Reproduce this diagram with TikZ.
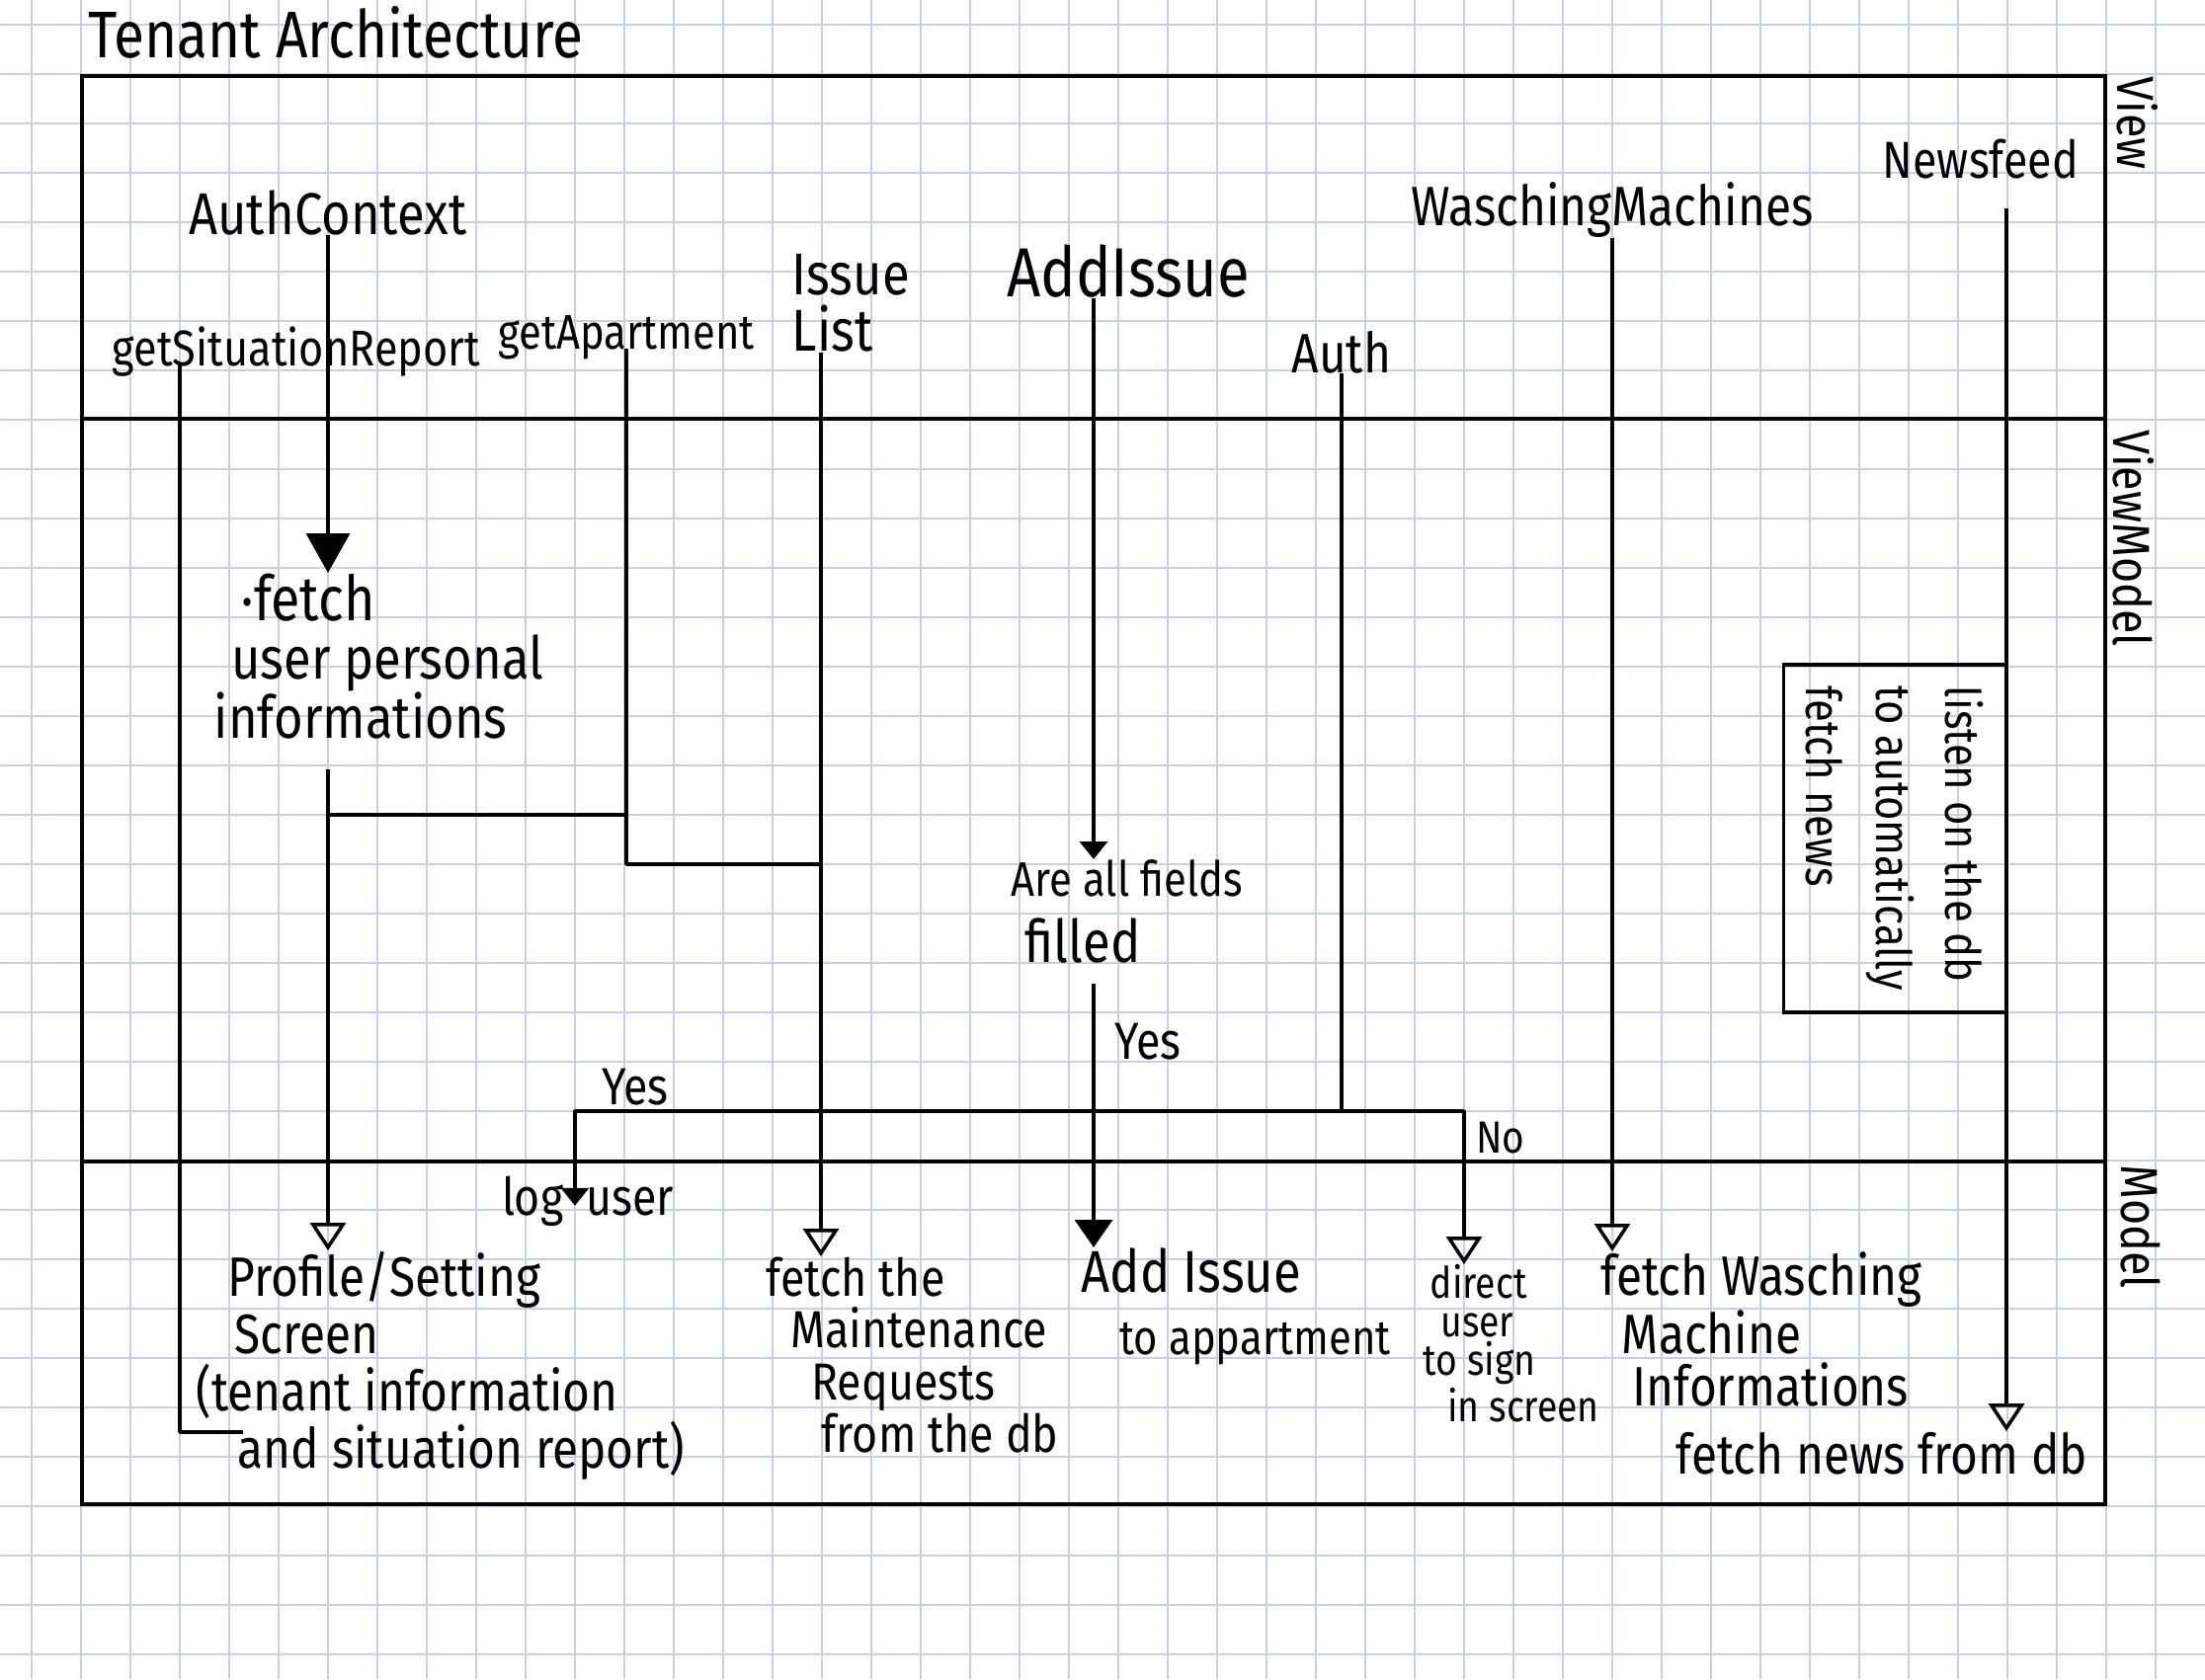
\documentclass[tikz,border=0pt]{standalone}
\usepackage{fontspec}
\setmainfont{Fira Sans}[FakeStretch=0.85]
\usetikzlibrary{
  arrows.meta
}
\definecolor{gridblue}{RGB}{196,208,228}

\begin{document}
\begin{tikzpicture}[
    every node/.style = {inner sep=0pt, align=left},
    hand/.style 2 args = {font=\fontsize{#1}{#2}\selectfont},
    side/.style = {rotate=-90, hand={15pt}{15pt}},
    mvvm/.style = {line width=1.4pt},
    conn/.style = {line width=1pt, line join=round},
    bigtip/.style = {-{Triangle[length=4mm, width=4.4mm]}},
    midtip/.style = {-{Triangle[length=2.8mm, width=3.8mm]}},
    smalltip/.style = {-{Triangle[length=1.8mm, width=2.8mm]}},
    opentip/.style = {-{Triangle[open, length=2.8mm, width=3.6mm]}}]
  \useasboundingbox (0,0) rectangle (22.32,-17);
  \fill[white] (0,0) rectangle (22.32,-17);
  % squared paper
  \foreach \gx in {0,...,43}
    \draw[gridblue, line width=0.6pt] ({0.32+0.5*\gx},0) -- ({0.32+0.5*\gx},-17);
  \foreach \gy in {0,...,33}
    \draw[gridblue, line width=0.6pt] (0,{-0.25-0.5*\gy}) -- (22.32,{-0.25-0.5*\gy});

  % the three layers
  \coordinate (nw) at (0.83,-0.77);
  \coordinate (se) at (21.31,-15.23);
  \draw[mvvm] (nw) rectangle (se);
  \draw[mvvm] (nw |- 0,-4.24) -- (se |- 0,-4.24);
  \draw[mvvm] (nw |- 0,-11.76) -- (se |- 0,-11.76);
  \node[side] (view) at (21.64,-1.25) {View};
  \node[side] (viewmodel) at (21.60,-5.45) {ViewModel};
  \node[side] (model) at (21.67,-12.42) {Model};

  \node[hand={19pt}{19pt}, anchor=base] (title) at (3.40,-0.58) {Tenant Architecture};

  % view
  \node[hand={17pt}{17pt}, anchor=base] (authctx) at (3.32,-2.37) {AuthContext};
  \node[hand={14.5pt}{15pt}, anchor=base] (getsit) at (3.00,-3.70) {getSituationReport};
  \node[hand={14pt}{14pt}, anchor=base] (getapt) at (6.34,-3.53) {getApartment};
  \node[hand={17pt}{16pt}, anchor=north west] (isslist) at (8.01,-2.57) {Issue\\List};
  \node[hand={20pt}{20pt}, anchor=base] (addissue) at (11.42,-3.00) {AddIssue};
  \node[hand={16pt}{16pt}, anchor=base] (auth) at (13.58,-3.77) {Auth};
  \node[hand={16pt}{16pt}, anchor=base] (washing) at (16.32,-2.28) {WaschingMachines};
  \node[hand={15pt}{15pt}, anchor=base] (newsfeed) at (20.05,-1.80) {Newsfeed};

  % viewmodel
  \node[hand={17pt}{17pt}, anchor=north west] (fetchinfo) at (2.16,-5.80)
    {\hspace{8pt}·{\fontsize{18pt}{17pt}\selectfont fetch}\\\hspace{5pt}user personal\\informations};
  \node[hand={14pt}{19pt}, anchor=north west] (fields) at (10.23,-8.70)
    {Are all fields\\\hspace{4pt}{\fontsize{17pt}{19pt}\selectfont filled}};
  \node[hand={15pt}{15pt}, anchor=base] (yesadd) at (11.62,-10.72) {Yes};
  \node[hand={15pt}{15pt}, anchor=base] (yesauth) at (6.43,-11.18) {Yes};
  \node[hand={13pt}{13pt}, anchor=base] (noauth) at (15.19,-11.67) {No};
  \node[draw, line width=1pt, rotate=-90, minimum width=3.52cm, minimum height=2.25cm,
    hand={14pt}{20pt}] (listen) at (19.18,-8.49)
    {listen on the db\\to automatically\\fetch news};

  % model
  \node[hand={16pt}{16.5pt}, anchor=north west] (profile) at (1.98,-12.66)
    {\hspace{9pt}Profile/Setting\\\hspace{11pt}Screen\\(tenant information\\\hspace{12pt}and situation report)};
  \node[hand={15pt}{15pt}, anchor=base] (loguser) at (5.95,-12.30) {log\hspace{6.5pt}user};
  \node[hand={15pt}{15pt}, anchor=north west] (maint) at (7.75,-12.72)
    {fetch the\\\hspace{7pt}Maintenance\\\hspace{13pt}Requests\\\hspace{16pt}from the db};
  \node[hand={17pt}{18pt}, anchor=north west] (addtoapt) at (10.94,-12.63)
    {Add Issue\\\hspace{11pt}{\fontsize{14pt}{18pt}\selectfont to appartment}};
  \node[hand={12.5pt}{11pt}, anchor=north west] (direct) at (14.40,-12.80)
    {\hspace{2pt}direct\\\hspace{5pt}user\\to sign\\\hspace{7pt}in screen};
  \node[hand={16pt}{15pt}, anchor=north west] (fetchwash) at (16.20,-12.67)
    {fetch Wasching\\\hspace{6pt}Machine\\\hspace{9pt}Informations};
  \node[hand={16pt}{16pt}, anchor=base] (fetchnews) at (19.05,-14.92) {fetch news from db};

  % lanes
  \coordinate (sitlane) at (1.82,0);
  \coordinate (sitend) at (2.46,-14.50);
  \coordinate (isslane) at (8.31,0);
  \coordinate (addlane) at (11.07,0);
  \coordinate (yeslane) at (5.82,0);
  \coordinate (nolane) at (14.82,0);
  \coordinate (newslane) at (20.31,0);
  \coordinate (fork) at (auth.south |- 0,-11.25);

  \draw[conn, bigtip] (authctx.south) -- (fetchinfo.north -| authctx.south);
  \draw[conn, opentip, shorten <=3mm] (fetchinfo.south -| authctx.south) -- (profile.north -| authctx.south);
  \draw[conn] (getsit.base -| sitlane) |- (sitend);
  \draw[conn] (authctx.south |- 0,-8.25) -- (getapt.base |- 0,-8.25);
  \draw[conn] (getapt.base) |- (isslane |- 0,-8.75);
  \draw[conn, opentip] (isslist.south -| isslane) -- (maint.north -| isslane);
  \draw[conn, smalltip] (addissue.south -| addlane) -- (fields.north -| addlane);
  \draw[conn, midtip, shorten <=2mm] (fields.south -| addlane) -- (addtoapt.north -| addlane);
  \draw[conn] (auth.south) -- (fork);
  \draw[conn, smalltip] (fork) -| (loguser.mid -| yeslane);
  \draw[conn, opentip] (fork) -| (direct.north -| nolane);
  \draw[conn, opentip] (washing.south) -- (fetchwash.north -| washing.south);
  \draw[conn, opentip, shorten <=3mm] (newsfeed.south -| newslane) -- (fetchnews.north -| newslane);
\end{tikzpicture}
\end{document}
